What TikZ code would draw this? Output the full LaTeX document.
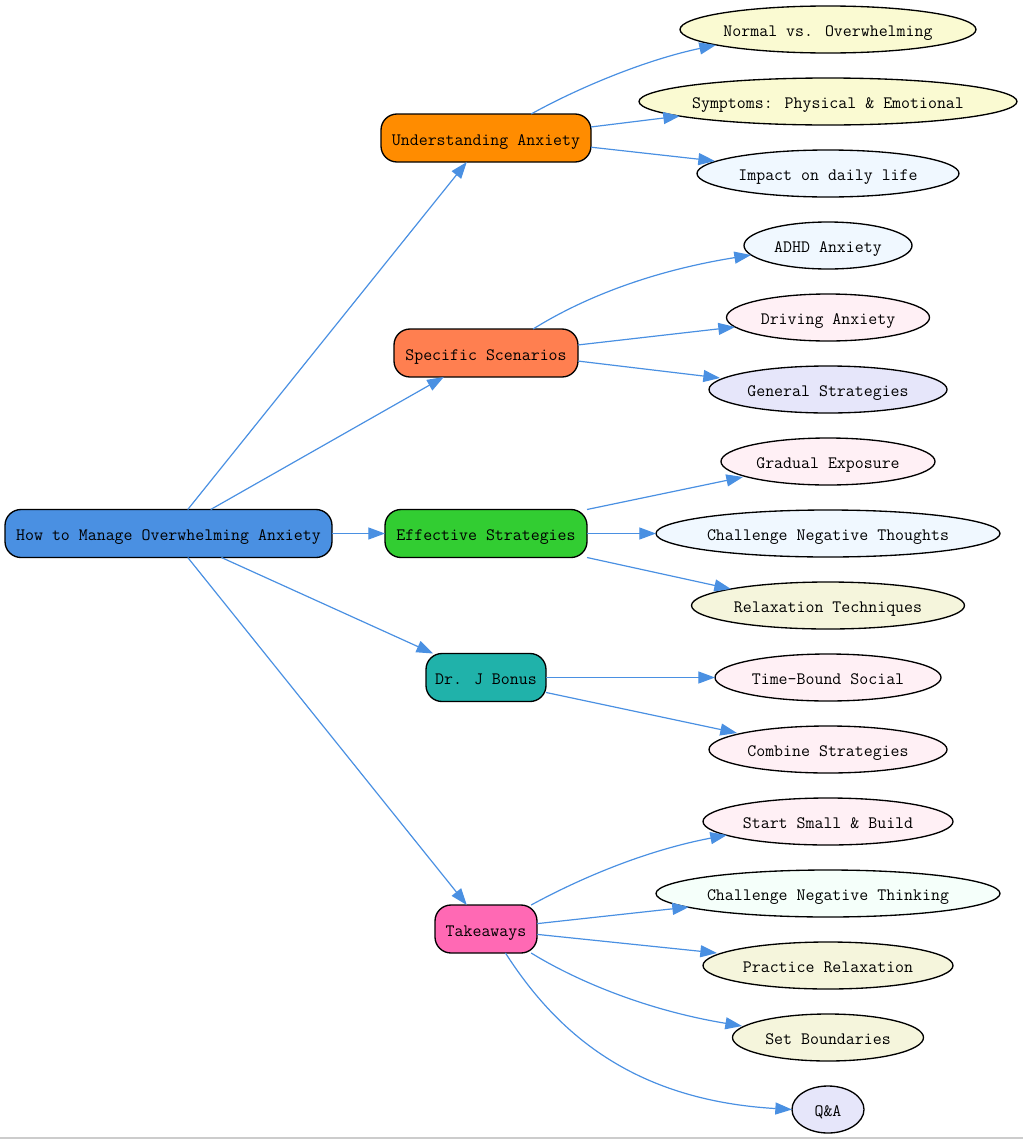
\documentclass[tikz,border=0pt]{standalone}
\usetikzlibrary{arrows.meta,shapes.geometric}
\definecolor{edgeblue}{HTML}{4A90E2}
\definecolor{darkorange}{HTML}{FF8C00}
\definecolor{coral}{HTML}{FF7F50}
\definecolor{limegreen}{HTML}{32CD32}
\definecolor{seagreen}{HTML}{20B2AA}
\definecolor{hotpink}{HTML}{FF69B4}
\definecolor{goldenrod}{HTML}{FAFAD2}
\definecolor{aliceblue}{HTML}{F0F8FF}
\definecolor{blush}{HTML}{FFF0F5}
\definecolor{lavender}{HTML}{E6E6FA}
\definecolor{beige}{HTML}{F5F5DC}
\definecolor{mintcream}{HTML}{F5FFFA}
\tikzset{
  topic/.style={draw=black,line width=1pt,fill=#1,rectangle,rounded corners=12pt,minimum height=36pt,inner sep=0pt,outer sep=0pt,text height=11pt,text depth=0pt,font=\fontsize{13.05}{15}\selectfont\ttfamily},
  leaf/.style={draw=black,line width=1pt,fill=#1,ellipse,minimum height=35.25pt,inner xsep=-5pt,inner ysep=0pt,outer sep=0pt,text height=11pt,text depth=0pt,font=\fontsize{13.05}{15}\selectfont\ttfamily},
}
\begin{document}
\begin{tikzpicture}[x=0.75pt,y=-0.75pt]
      \useasboundingbox (0,0) rectangle (1023,1139);
      \fill[black!20] (0,1137) rectangle (1023,1139);
      \draw
        (168.5,533.5) node[topic=edgeblue,minimum width=245.25pt] (root){How to Manage Overwhelming Anxiety}
        (486,138) node[topic=darkorange,minimum width=157.5pt] (understanding){Understanding Anxiety}
        (486,353) node[topic=coral,minimum width=138pt] (scenarios){Specific Scenarios}
        (486,533.5) node[topic=limegreen,minimum width=151.5pt] (strategies){Effective Strategies}
        (486,677.5) node[topic=seagreen,minimum width=90pt] (bonus){Dr. J Bonus}
        (486,929) node[topic=hotpink,minimum width=76.5pt] (takeaways){Takeaways}
        (828,29.5) node[leaf=goldenrod,minimum width=222pt] (normal){Normal vs. Overwhelming}
        (828,101.5) node[leaf=goldenrod,minimum width=283.5pt] (symptoms){Symptoms: Physical \& Emotional}
        (828,173.5) node[leaf=aliceblue,minimum width=196.5pt] (impact){Impact on daily life}
        (828,245.5) node[leaf=aliceblue,minimum width=126pt] (adhd){ADHD Anxiety}
        (828,317.5) node[leaf=blush,minimum width=152.25pt] (driving){Driving Anxiety}
        (828,389.5) node[leaf=lavender,minimum width=178.5pt] (general){General Strategies}
        (828,461.5) node[leaf=blush,minimum width=160.5pt] (gradual){Gradual Exposure}
        (828,533.5) node[leaf=aliceblue,minimum width=258pt] (thoughts){Challenge Negative Thoughts}
        (828,605.5) node[leaf=beige,minimum width=204.75pt] (relaxation){Relaxation Techniques}
        (828,677.5) node[leaf=blush,minimum width=169.5pt] (social){Time-Bound Social}
        (828,749.5) node[leaf=blush,minimum width=178.5pt] (combine){Combine Strategies}
        (828,821.5) node[leaf=blush,minimum width=187.5pt] (start){Start Small \& Build}
        (828,893.5) node[leaf=mintcream,minimum width=258pt] (thinking){Challenge Negative Thinking}
        (828,965.5) node[leaf=beige,minimum width=187.5pt] (practice){Practice Relaxation}
        (828,1037.5) node[leaf=beige,minimum width=143.25pt] (boundaries){Set Boundaries}
        (828,1109.5) node[leaf=lavender,minimum width=54pt] (qa){Q\&A};
      \begin{scope}[-{Triangle[length=12.5pt,width=9pt]},draw=edgeblue,line width=0.9pt]
        \draw (root) to (understanding);
        \draw (root) to (scenarios);
        \draw (root) to (strategies);
        \draw (root) to (bonus);
        \draw (root) to (takeaways);
        \draw (understanding.28.5) .. controls (578,88) and (645,60) .. ([shift={(-112,15.5)}]normal.center);
        \draw (understanding.6.5) to ([shift={(-148,14.5)}]symptoms.center);
        \draw (understanding.-5.4) to ([shift={(-113,-12.5)}]impact.center);
        \draw (scenarios.27.5) .. controls (578,301) and (645,272) .. ([shift={(-77,9.5)}]adhd.center);
        \draw (scenarios.5.6) to ([shift={(-93,9.5)}]driving.center);
        \draw (scenarios.-5.6) to ([shift={(-108,-11.5)}]general.center);
        \draw (strategies.north east) to ([shift={(-85,15.5)}]gradual.center);
        \draw (strategies) to (thoughts);
        \draw (strategies.south east) to ([shift={(-97,-16.5)}]relaxation.center);
        \draw (bonus) to (social);
        \draw (bonus.-14) to ([shift={(-91,-16.5)}]combine.center);
        \draw (takeaways.28) .. controls (577,880) and (643,851) .. ([shift={(-101,13.5)}]start.center);
        \draw (takeaways.6.7) to ([shift={(-139,13.5)}]thinking.center);
        \draw (takeaways.-6.7) to ([shift={(-111,-12.5)}]practice.center);
        \draw (takeaways.-28) .. controls (575,980) and (645,1010) .. ([shift={(-86,-11.5)}]boundaries.center);
        \draw (takeaways.-51.6) .. controls (555,1030) and (630,1100) .. (qa.west);
      \end{scope}
    \end{tikzpicture}
\end{document}
